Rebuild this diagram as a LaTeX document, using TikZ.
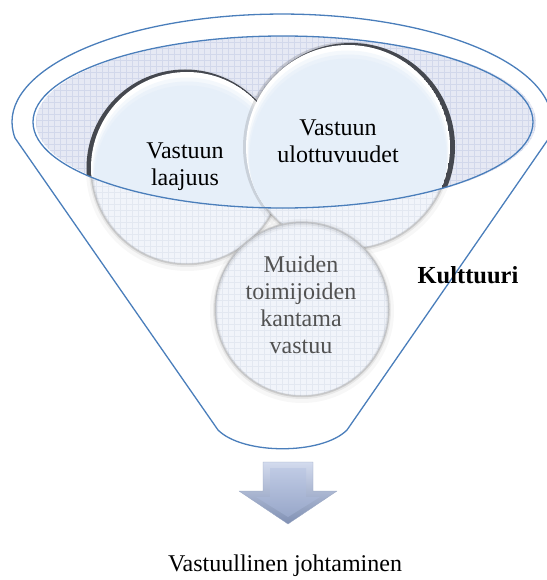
\documentclass[tikz,border=0pt]{standalone}
\usepackage{fontspec}
\setmainfont{Liberation Serif}
\definecolor{funnel}{HTML}{4A7EBB}
\definecolor{bowl}{HTML}{E6E9F4}
\definecolor{bowlgrid}{HTML}{D2D8EB}
\definecolor{capB}{HTML}{E6EFF9}
\definecolor{rim}{HTML}{45484F}
\definecolor{ghost}{HTML}{F1F4FA}
\definecolor{ghostgrid}{HTML}{E3E8F1}
\definecolor{arrowtop}{HTML}{D3DBEE}
\definecolor{arrowbot}{HTML}{8090B3}
\definecolor{facetop}{HTML}{BFCAE4}
\definecolor{facebot}{HTML}{98A7C9}

% square grid of fine lines (6pt pitch) over a rectangle (x0,y0)-(x1,y1)
\newcommand\finegrid[5]{%
  \pgfmathsetmacro\gxo{6*floor((#1)/6)}%
  \pgfmathsetmacro\gxs{\gxo+6}%
  \pgfmathsetmacro\gxe{#3}%
  \pgfmathsetmacro\gyo{6*floor((#2)/6)}%
  \pgfmathsetmacro\gys{\gyo+6}%
  \pgfmathsetmacro\gye{#4}%
  \foreach \gx in {\gxo,\gxs,...,\gxe} \draw[#5] (\gx,\gyo) -- (\gx,\gye);
  \foreach \gy in {\gyo,\gys,...,\gye} \draw[#5] (\gxo,\gy) -- (\gxe,\gy);
}

% faded bubble: pale fill, fine grid and a soft grey edge
\newcommand\ghostdisc[3]{%
  \fill[ghost] (#1,#2) circle[radius=#3];
  \begin{scope}
    \clip (#1,#2) circle[radius=#3];
    \finegrid{#1-#3}{#2-#3}{#1+#3}{#2+#3}{ghostgrid,line width=0.3}
  \end{scope}
  \draw[black,opacity=0.03,line width=8] (#1,#2+2) circle[radius=#3+1];
  \draw[black,opacity=0.06,line width=4] (#1,#2+1) circle[radius=#3];
  \draw[black,opacity=0.12,line width=1.5] (#1,#2+0.5) circle[radius=#3];
  \draw[gray!45,line width=0.4] (#1,#2) circle[radius=#3];
}

% glossy bubble with a bright band under its top edge
\newcommand\glossdisc[3]{%
  \begin{scope}
    \clip (#1,#2) circle[radius=#3];
    \fill[white] (#1,#2) circle[radius=#3];
    \fill[capB!45!white] (#1,#2+4) circle[radius=#3-1.5];
    \fill[capB!80!white] (#1,#2+7) circle[radius=#3-2.5];
    \fill[capB] (#1,#2+10) circle[radius=#3-3.5];
  \end{scope}
}

\begin{document}
\begin{tikzpicture}[x=1pt,y=-1pt,line join=round,
  lbl/.style={font=\fontsize{24}{27}\selectfont,align=center,inner sep=0pt},
  outline/.style={draw=funnel,line width=1.3pt}]
\useasboundingbox (0,0) rectangle (546,580);

% bowl of the funnel: pale grid-textured ellipse
\begin{scope}
  \clip (286,122) ellipse[x radius=250,y radius=86];
  \fill[bowl] (0,0) rectangle (546,220);
  \finegrid{30}{30}{546}{216}{bowlgrid,line width=0.35}
\end{scope}

% faded bubbles
\ghostdisc{187}{168}{96}
\ghostdisc{348}{147}{102}
\ghostdisc{302}{309}{87}

% bubbles seen through the bowl
\begin{scope}
  \clip (283,122) ellipse[x radius=250,y radius=86];
  \fill[rim] (185,168) circle[radius=98.5];
  \glossdisc{187}{168}{96}
  \draw[black,opacity=0.12,line width=4] (348,147) circle[radius=103];
  \fill[rim] (351,147) circle[radius=104];
  \glossdisc{348}{147}{102}
\end{scope}

% inner rim
\draw[outline] (283,122) ellipse[x radius=250,y radius=86];

% funnel outline
\coordinate (fl) at (15,138);
\coordinate (fr) at (549,138);
\coordinate (bl) at (218,430);
\coordinate (br) at (347,430);
\draw[outline] (fl) arc[start angle=171.5,end angle=368.5,x radius=270,y radius=108]
  -- (br) .. controls (322,455) and (243,455) .. (bl) -- cycle;

% labels
\node[lbl] (t1) at (185,167) {Vastuun\\laajuus};
\node[lbl] (t2) at (338,141) {Vastuun\\ulottuvuudet};
\node[lbl,text=black!68] (t3) at (301,305) {Muiden\\toimijoiden\\kantama\\vastuu};
\node[lbl,font=\fontsize{24.5}{27}\selectfont\bfseries] (k) at (468,275) {Kulttuuri};

% bevelled down arrow
\shade[top color=arrowtop,bottom color=arrowbot,draw=arrowbot!80,line width=0.3]
  (263,462) -- (313,462) -- (313,491) -- (337,491) -- (288,524) -- (239,491) -- (263,491) -- cycle;
\shade[top color=facetop,bottom color=facebot]
  (270,468) -- (306,468) -- (306,497) -- (320,497) -- (288,517) -- (256,497) -- (270,497) -- cycle;

\node[lbl] (vj) at (285,566) {Vastuullinen johtaminen};
\end{tikzpicture}
\end{document}
